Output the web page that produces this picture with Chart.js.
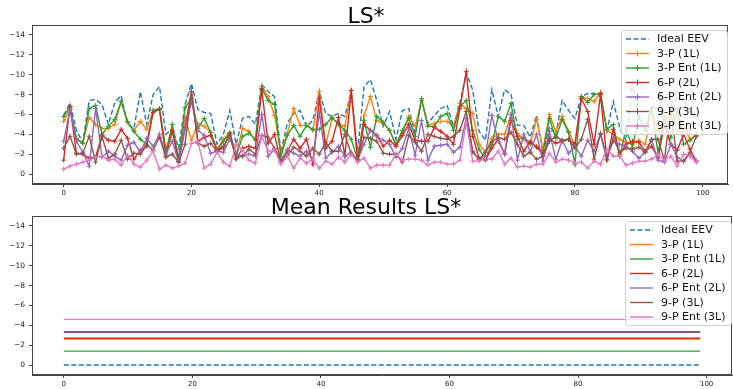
<!DOCTYPE html>
<html>
<head>
<meta charset="utf-8">
<script src="https://cdn.jsdelivr.net/npm/chart.js@4.4.0/dist/chart.umd.min.js"></script>
<style>
  body { margin: 0; background: #fff; width: 733px; height: 389px; overflow: hidden; position: relative; }
  canvas { position: absolute; left: 0; }
  #topChart { top: 0; }
  #meanChart { top: 190px; }
</style>
</head>
<body>
<canvas id="topChart" width="733" height="198"></canvas>
<canvas id="meanChart" width="733" height="199"></canvas>
<script>
// run index on the x axis
const runs = Array.from({ length: 100 }, (_, i) => i);
const xTicks = [0, 20, 40, 60, 80, 100];
const yTicks = [-14, -12, -10, -8, -6, -4, -2, 0];

const seriesNames = ["Ideal EEV", "3-P (1L)", "3-P Ent (1L)", "6-P (2L)", "6-P Ent (2L)", "9-P (3L)", "9-P Ent (3L)"];
const seriesColors = ["#1f77b4", "#ff7f0e", "#2ca02c", "#d62728", "#9467bd", "#8c564b", "#e377c2"];

const idealEEV = [
  -5.9, -7.1, -4.4, -3.2, -7.4, -7.5, -7.0, -5.0, -7.2, -7.9,
  -5.0, -4.6, -8.3, -5.0, -8.0, -8.8, -4.0, -4.6, -2.6, -7.0,
  -9.1, -6.5, -6.2, -6.1, -3.0, -4.0, -6.4, -3.0, -5.6, -5.8,
  -5.0, -9.0, -8.3, -7.8, -2.2, -5.1, -6.1, -6.4, -4.8, -5.4,
  -8.3, -6.1, -5.8, -6.1, -5.8, -8.3, -2.3, -8.8, -9.5, -7.4,
  -4.8, -6.3, -3.5, -6.4, -6.6, -4.0, -7.4, -5.1, -5.9, -6.6,
  -6.9, -4.8, -7.1, -10.2, -8.5, -4.3, -3.4, -8.5, -5.8, -8.5,
  -8.0, -4.9, -4.9, -3.7, -5.9, -2.1, -4.8, -4.0, -7.4, -6.4,
  -5.6, -7.8, -8.1, -8.1, -7.8, -4.3, -7.3, -4.7, -3.4, -9.1,
  -5.8, -4.5, -6.9, -6.4, -7.8, -6.1, -7.8, -7.4, -6.4, -5.6
];
const p3 = [
  -5.3, -6.6, -3.5, -3.1, -5.7, -5.0, -4.6, -4.6, -5.0, -7.3,
  -5.2, -4.4, -5.3, -4.5, -6.4, -6.5, -2.5, -4.4, -1.5, -5.7,
  -3.4, -5.1, -4.8, -4.2, -2.5, -3.5, -4.2, -2.0, -4.6, -4.3,
  -3.4, -8.8, -7.8, -5.9, -2.1, -4.1, -6.6, -4.9, -4.9, -4.4,
  -8.3, -2.9, -5.6, -5.1, -4.8, -8.4, -1.4, -5.9, -7.8, -5.4,
  -5.1, -4.4, -2.8, -4.1, -5.8, -4.8, -7.4, -4.9, -5.1, -5.3,
  -5.3, -4.8, -7.1, -6.6, -6.1, -3.0, -2.2, -3.6, -4.0, -4.0,
  -6.0, -4.1, -3.5, -3.0, -5.5, -2.5, -6.0, -4.3, -5.8, -4.3,
  -2.9, -7.8, -7.6, -7.3, -8.2, -4.4, -4.0, -3.5, -3.2, -3.0,
  -3.4, -3.0, -6.6, -4.3, -4.8, -7.1, -4.2, -4.8, -3.5, -4.0
];
const p3Ent = [
  -5.8, -6.8, -3.6, -3.1, -6.6, -6.9, -4.0, -4.8, -5.5, -7.3,
  -5.3, -4.3, -3.5, -3.0, -6.4, -6.6, -2.2, -5.0, -1.5, -6.7,
  -7.6, -4.6, -5.6, -4.2, -2.4, -3.3, -4.1, -1.8, -3.8, -4.1,
  -3.5, -8.6, -7.4, -7.0, -1.8, -3.9, -4.9, -3.8, -4.9, -4.5,
  -4.5, -5.0, -5.7, -5.0, -4.4, -3.5, -1.5, -5.4, -2.7, -5.8,
  -5.2, -4.4, -3.0, -4.4, -5.6, -3.8, -7.6, -4.8, -4.8, -5.8,
  -6.1, -4.4, -6.8, -7.4, -4.4, -2.5, -1.5, -3.0, -5.8, -5.3,
  -7.1, -3.5, -3.7, -3.1, -2.8, -2.2, -5.6, -3.6, -5.5, -4.2,
  -1.0, -7.8, -7.2, -8.0, -8.1, -4.5, -5.0, -1.8, -4.5, -2.7,
  -5.8, -4.4, -6.6, -2.1, -5.7, -3.7, -6.6, -3.0, -3.4, -3.9
];
const p6 = [
  -1.4, -6.8, -2.1, -2.0, -1.6, -1.7, -3.9, -3.4, -3.3, -4.5,
  -3.6, -1.5, -2.4, -2.8, -6.2, -6.5, -1.8, -4.3, -1.3, -4.7,
  -8.3, -3.3, -3.7, -3.9, -2.4, -2.8, -3.9, -1.5, -2.6, -2.8,
  -2.6, -8.5, -3.1, -4.0, -1.2, -2.3, -3.5, -2.6, -3.5, -1.0,
  -7.6, -2.6, -3.3, -5.7, -1.8, -8.4, -1.4, -5.0, -4.4, -3.9,
  -2.8, -3.4, -2.8, -3.9, -5.0, -3.4, -3.3, -3.3, -4.7, -4.3,
  -3.8, -3.0, -6.6, -10.3, -3.8, -1.6, -1.4, -2.6, -3.5, -2.0,
  -5.4, -3.8, -2.3, -3.3, -2.7, -2.0, -3.6, -3.1, -3.3, -3.5,
  -3.0, -7.6, -6.3, -3.0, -8.0, -1.5, -4.5, -2.0, -3.0, -3.3,
  -3.2, -2.3, -2.8, -1.6, -5.0, -3.0, -2.4, -4.0, -2.5, -1.3
];
const p6Ent = [
  -3.3, -6.5, -3.3, -2.2, -0.8, -6.6, -1.7, -2.3, -1.8, -1.4,
  -2.9, -3.2, -2.2, -3.6, -2.8, -4.0, -2.0, -3.3, -1.2, -4.5,
  -7.3, -4.4, -3.9, -2.1, -2.3, -2.2, -3.5, -2.0, -1.8, -2.0,
  -1.8, -6.0, -1.8, -2.5, -1.3, -2.5, -2.1, -1.8, -2.3, -1.4,
  -6.2, -1.6, -2.2, -2.8, -1.8, -2.2, -1.4, -3.0, -4.4, -3.8,
  -3.4, -3.0, -1.7, -2.6, -4.6, -1.9, -5.4, -1.4, -2.8, -2.9,
  -3.0, -2.2, -2.7, -5.6, -2.2, -1.5, -1.9, -5.9, -3.3, -2.1,
  -6.0, -1.4, -4.0, -2.2, -4.0, -1.3, -4.3, -1.5, -3.4, -2.1,
  -2.8, -1.8, -3.4, -2.3, -4.0, -1.8, -3.3, -3.0, -2.8, -2.3,
  -1.6, -2.2, -3.4, -1.4, -1.2, -3.0, -1.7, -1.3, -2.0, -1.3
];
const p9 = [
  -2.6, -3.8, -2.0, -2.1, -3.8, -1.2, -3.8, -1.6, -2.0, -3.4,
  -1.5, -2.1, -2.0, -2.9, -2.4, -3.7, -1.7, -2.0, -1.2, -3.0,
  -8.3, -3.1, -2.8, -3.1, -2.3, -2.6, -4.1, -1.6, -1.8, -2.5,
  -2.0, -3.9, -3.7, -2.6, -1.3, -1.9, -2.7, -2.3, -1.8, -2.6,
  -2.0, -3.2, -2.3, -2.3, -4.0, -2.0, -1.4, -3.7, -3.6, -3.3,
  -2.1, -2.0, -2.0, -1.2, -3.9, -3.2, -2.3, -4.0, -3.8, -3.6,
  -3.5, -3.8, -4.4, -6.3, -2.3, -1.5, -2.2, -3.2, -3.7, -3.5,
  -4.2, -3.0, -1.8, -2.2, -1.5, -1.8, -3.3, -3.8, -3.4, -3.5,
  -2.6, -3.5, -5.5, -1.5, -4.1, -1.4, -3.6, -2.2, -2.6, -2.5,
  -2.7, -2.2, -3.5, -3.5, -1.4, -6.5, -1.3, -1.3, -2.2, -3.8
];
const p9Ent = [
  -0.5, -0.8, -1.0, -1.2, -1.4, -1.7, -1.8, -1.4, -1.5, -0.9,
  -1.9, -1.0, -0.7, -1.4, -2.3, -0.5, -0.9, -0.6, -0.8, -1.1,
  -3.1, -3.3, -0.6, -1.0, -2.2, -1.2, -0.8, -3.0, -2.4, -1.4,
  -1.1, -3.8, -2.3, -2.4, -1.0, -1.8, -0.6, -1.6, -1.1, -1.5,
  -0.6, -1.3, -1.0, -1.7, -1.2, -2.0, -1.2, -1.6, -0.6, -0.9,
  -0.9, -0.9, -2.0, -1.4, -1.5, -1.5, -1.4, -0.9, -1.2, -1.2,
  -1.0, -1.0, -1.4, -5.2, -1.3, -1.3, -1.6, -1.5, -2.3, -1.0,
  -1.6, -0.7, -0.8, -0.7, -1.0, -1.0, -2.1, -1.2, -1.5, -1.4,
  -1.1, -1.2, -0.6, -1.3, -1.0, -2.5, -1.8, -1.8, -0.9, -1.1,
  -1.3, -1.3, -1.5, -2.0, -1.4, -1.8, -0.8, -2.0, -1.8, -1.2
];

// mean of each series, drawn across the run range in the lower plot
const meanValues = [0, -2.62, -1.4, -2.7, -3.3, -3.35, -4.6];

const allSeries = [idealEEV, p3, p3Ent, p6, p6Ent, p9, p9Ent];

const fontFamily = "DejaVu Sans";
const axisColor = "#444";

const framePlugin = {
  id: "frame",
  afterDatasetsDraw(chart) {
    const a = chart.chartArea, ctx = chart.ctx;
    ctx.save();
    ctx.strokeStyle = axisColor;
    ctx.lineWidth = 1;
    ctx.strokeRect(a.left + 0.5, a.top + 0.5, a.right - a.left - 1, a.bottom - a.top - 1);
    ctx.restore();
  }
};

const boxLegend = {
  id: "boxLegend",
  afterDraw(chart, args, opts) {
    const a = chart.chartArea, ctx = chart.ctx;
    const left = a.right - 107, top = a.top + 5, w = 106, h = 104;
    ctx.save();
    ctx.fillStyle = "rgba(255,255,255,0.8)";
    ctx.strokeStyle = "#d0d0d0";
    ctx.lineWidth = 1;
    ctx.beginPath();
    ctx.roundRect(left + 0.5, top + 0.5, w, h, 3);
    ctx.fill();
    ctx.stroke();
    ctx.font = "11px " + fontFamily;
    ctx.textBaseline = "middle";
    seriesNames.forEach((name, i) => {
      const y = top + 9 + i * 14.5;
      ctx.strokeStyle = seriesColors[i];
      ctx.lineWidth = 1.4;
      ctx.setLineDash(i === 0 ? [5, 2.5] : []);
      ctx.beginPath();
      ctx.moveTo(left + 5, y);
      ctx.lineTo(left + 28, y);
      ctx.stroke();
      ctx.setLineDash([]);
      if (opts.markers && i > 0) {
        ctx.lineWidth = 1;
        ctx.beginPath();
        ctx.moveTo(left + 16.5, y - 3);
        ctx.lineTo(left + 16.5, y + 3);
        ctx.moveTo(left + 13.5, y);
        ctx.lineTo(left + 19.5, y);
        ctx.stroke();
      }
      ctx.fillStyle = "#111";
      ctx.fillText(name, left + 36, y + 0.5);
    });
    ctx.restore();
  }
};

function makeOptions(title, titlePad, markers) {
  return {
    responsive: false,
    animation: false,
    layout: { padding: { left: 0, right: 1, top: 0, bottom: 0 } },
    plugins: {
      legend: { display: false },
      tooltip: { enabled: false },
      title: {
        display: true,
        text: title,
        color: "#000",
        font: { family: fontFamily, size: 22, weight: "normal", lineHeight: 1 },
        padding: titlePad
      },
      boxLegend: { markers: markers }
    },
    scales: {
      x: {
        type: "linear",
        min: -4.95,
        max: 103.95,
        afterBuildTicks: s => { s.ticks = xTicks.map(v => ({ value: v })); },
        afterFit: s => { s.height = 14; },
        grid: { drawOnChartArea: false, tickLength: 3, color: axisColor },
        border: { color: axisColor },
        ticks: { autoSkip: false, maxRotation: 0, padding: 2, color: "#222", font: { family: fontFamily, size: 7 } }
      },
      y: {
        type: "linear",
        min: -15,
        max: 1,
        reverse: true,
        afterBuildTicks: s => { s.ticks = yTicks.map(v => ({ value: v })); },
        afterFit: s => { s.width = 32; },
        grid: { drawOnChartArea: false, tickLength: 3, color: axisColor },
        border: { color: axisColor },
        ticks: {
          autoSkip: false, padding: 4, color: "#222", font: { family: fontFamily, size: 7.5 },
          callback: v => (v < 0 ? "\u2212" + Math.abs(v) : String(v))
        }
      }
    }
  };
}

// order: later series are drawn on top, as in the original plot
const topDatasets = allSeries.map((vals, k) => ({
  label: seriesNames[k],
  data: runs.map((r, i) => ({ x: r, y: vals[i] })),
  order: -k,
  borderColor: seriesColors[k],
  backgroundColor: seriesColors[k],
  borderWidth: 1.4,
  borderDash: k === 0 ? [5, 2.5] : [],
  pointStyle: "cross",
  pointRadius: k === 0 ? 0 : 2.5,
  pointBorderWidth: 1,
  pointBorderColor: seriesColors[k],
  tension: 0
}));

new Chart(document.getElementById("topChart"), {
  type: "line",
  data: { datasets: topDatasets },
  options: makeOptions("LS*", { top: 6, bottom: -3 }, true),
  plugins: [framePlugin, boxLegend]
});

const meanDatasets = meanValues.map((m, k) => ({
  label: seriesNames[k],
  data: [{ x: runs[0], y: m }, { x: runs[runs.length - 1], y: m }],
  order: -k,
  borderColor: seriesColors[k],
  backgroundColor: seriesColors[k],
  borderWidth: 1.4,
  borderDash: k === 0 ? [5, 2.5] : [],
  pointRadius: 0,
  tension: 0
}));

new Chart(document.getElementById("meanChart"), {
  type: "line",
  data: { datasets: meanDatasets },
  options: makeOptions("Mean Results LS*", { top: 7, bottom: -3 }, false),
  plugins: [framePlugin, boxLegend]
});
</script>
</body>
</html>
